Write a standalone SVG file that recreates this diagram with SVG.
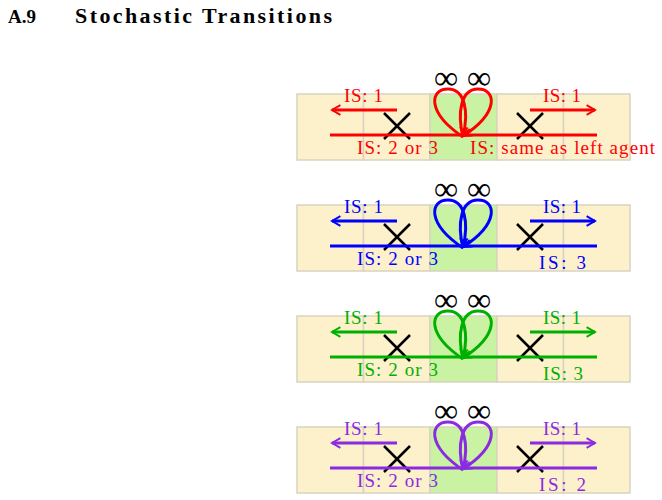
<svg xmlns="http://www.w3.org/2000/svg" width="662" height="500" viewBox="0 0 662 500">
<style>
.t{font-family:"Liberation Serif",serif;font-size:19px;stroke:none}
.cell{fill:#fdf1cb;stroke:#d8d3c0;stroke-width:1.5}
.mid{fill:#c9f2a2;stroke:#d8d3c0;stroke-width:1.5}
.ln{fill:none;stroke-width:3;stroke-linecap:butt}
.x{stroke:#000;stroke-width:2.5}
.inf{font-family:"Liberation Serif",serif;font-size:34px;fill:#000;stroke:none}
</style>
<defs>
<marker id="ar" viewBox="0 0 10 10" refX="8" refY="5" markerWidth="4" markerHeight="4" orient="auto" markerUnits="strokeWidth"><path d="M1,1 L8,5 L1,9" fill="none" stroke="context-stroke" stroke-width="1.6"/></marker>
<g id="panel">
<rect class="cell" x="297" y="94" width="66.5" height="66"/>
<rect class="cell" x="363.5" y="94" width="66.5" height="66"/>
<rect class="mid" x="430" y="94" width="67" height="66"/>
<rect class="cell" x="497" y="94" width="66.5" height="66"/>
<rect class="cell" x="563.5" y="94" width="66.5" height="66"/>
<text class="inf" x="434" y="89">∞</text><text class="inf" x="467" y="89">∞</text>
<line class="x" x1="384" y1="113" x2="410" y2="139"/><line class="x" x1="410" y1="113" x2="384" y2="139"/>
<line class="x" x1="517" y1="113" x2="543" y2="139"/><line class="x" x1="543" y1="113" x2="517" y2="139"/>
<line class="ln" x1="330" y1="135" x2="597" y2="135"/>
<line class="ln" x1="397" y1="110" x2="332" y2="110" marker-end="url(#ar)"/>
<line class="ln" x1="530" y1="110" x2="595" y2="110" marker-end="url(#ar)"/>
<path class="ln" d="M463,137 C426,112 430,89 448,89 C465,89 469,112 463,136" marker-end="url(#ar)"/>
<path class="ln" d="M463,137 C457,112 461,89 478,89 C496,89 500,112 463,136" marker-end="url(#ar)"/>
<text class="t" x="344" y="102" textLength="39">IS: 1</text>
<text class="t" x="543" y="102" textLength="38">IS: 1</text>
<text class="t" x="357" y="154" textLength="81">IS: 2 or 3</text>
</g>
</defs>
<text x="8" y="23" font-family="Liberation Serif,serif" font-size="19" font-weight="bold">A.9</text>
<text x="75" y="23" font-family="Liberation Serif,serif" font-size="22" font-weight="bold" textLength="257">Stochastic Transitions</text>
<g id="p1" fill="#ff0000" stroke="#ff0000"><use href="#panel"/><text class="t" x="470" y="154" textLength="185">IS: same as left agent</text></g>
<g id="p2" fill="#0000ff" stroke="#0000ff" transform="translate(0,111)"><use href="#panel"/><text class="t" x="539" y="158" textLength="47">IS:  3</text></g>
<g id="p3" fill="#00b000" stroke="#00b000" transform="translate(0,222)"><use href="#panel"/><text class="t" x="543" y="158" textLength="40">IS: 3</text></g>
<g id="p4" fill="#8a2be2" stroke="#8a2be2" transform="translate(0,333)"><use href="#panel"/><text class="t" x="539" y="158" textLength="47">IS:  2</text></g>
</svg>
